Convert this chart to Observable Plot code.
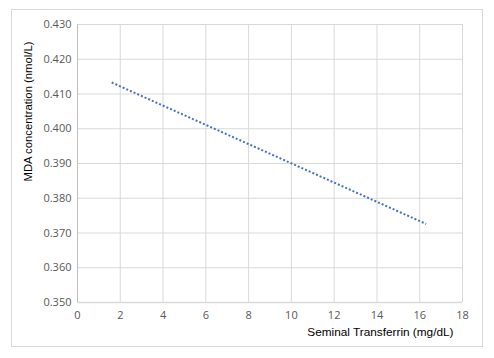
<!DOCTYPE html>
<html>
<head>
<meta charset="utf-8">
<script src="https://cdn.jsdelivr.net/npm/d3@7"></script>
<script src="https://cdn.jsdelivr.net/npm/@observablehq/plot@0.6"></script>
<style>
  html, body { margin: 0; padding: 0; background: #fff; }
  #wrap { position: relative; width: 494px; height: 358px; }
  #frame { position: absolute; left: 11px; top: 9px; width: 470px; height: 336px; border: 1px solid #d9d9d9; box-sizing: content-box; pointer-events: none; }
  #wrap svg { position: absolute; left: 0; top: 0; }
</style>
</head>
<body>
<div id="wrap"><div id="frame"></div></div>
<script>
const transferrin = [1.6, 16.3];
const mda = [0.4133, 0.3726];
const xTicks = [0, 2, 4, 6, 8, 10, 12, 14, 16, 18];
const yTicks = [0.35, 0.36, 0.37, 0.38, 0.39, 0.40, 0.41, 0.42, 0.43];
const xTitle = "Seminal Transferrin (mg/dL)";
const yTitle = "MDA concentration (nmol/L)";

const data = transferrin.map((x, i) => ({x, y: mda[i]}));

const chart = Plot.plot({
  width: 494,
  height: 358,
  marginLeft: 77,
  marginRight: 32,
  marginTop: 24,
  marginBottom: 56,
  style: {fontFamily: "'Open Sans', sans-serif", fontSize: "11px", background: "transparent", overflow: "visible"},
  x: {domain: [0, 18], ticks: xTicks, tickSize: 0, tickPadding: 9, label: null},
  y: {domain: [0.35, 0.43], ticks: yTicks, tickSize: 0, tickPadding: 6, tickFormat: d3.format(".3f"), label: null},
  marks: [
    Plot.gridX(xTicks, {stroke: "#d9d9d9", strokeOpacity: 1, strokeWidth: 1}),
    Plot.gridY(yTicks, {stroke: "#d9d9d9", strokeOpacity: 1, strokeWidth: 1}),
    Plot.ruleX([0], {stroke: "#bfbfbf", strokeWidth: 1}),
    Plot.ruleY([0.35], {stroke: "#d9d9d9", strokeWidth: 1.5}),
    Plot.axisX({ticks: xTicks, tickSize: 0, tickPadding: 9, color: "#595959", fontSize: 11, label: null}),
    Plot.axisY({ticks: yTicks, tickSize: 0, tickPadding: 6, tickFormat: d3.format(".3f"), color: "#595959", fontSize: 11, label: null}),
    Plot.line(data, {x: "x", y: "y", stroke: "#4472c4", strokeWidth: 2, strokeDasharray: "2,2", strokeLinecap: "butt"}),
    Plot.text([xTitle], {frameAnchor: "bottom-right", dx: -9, dy: 33, text: d => d, fontFamily: "'Liberation Sans', Arial, sans-serif", fontSize: 11.8, fill: "#000"}),
    Plot.text([yTitle], {frameAnchor: "top-left", rotate: -90, dx: -54, dy: 17, textAnchor: "end", text: d => d, fontFamily: "'Liberation Sans', Arial, sans-serif", fontSize: 11.3, fill: "#000"})
  ]
});
document.getElementById("wrap").appendChild(chart);
</script>
</body>
</html>
